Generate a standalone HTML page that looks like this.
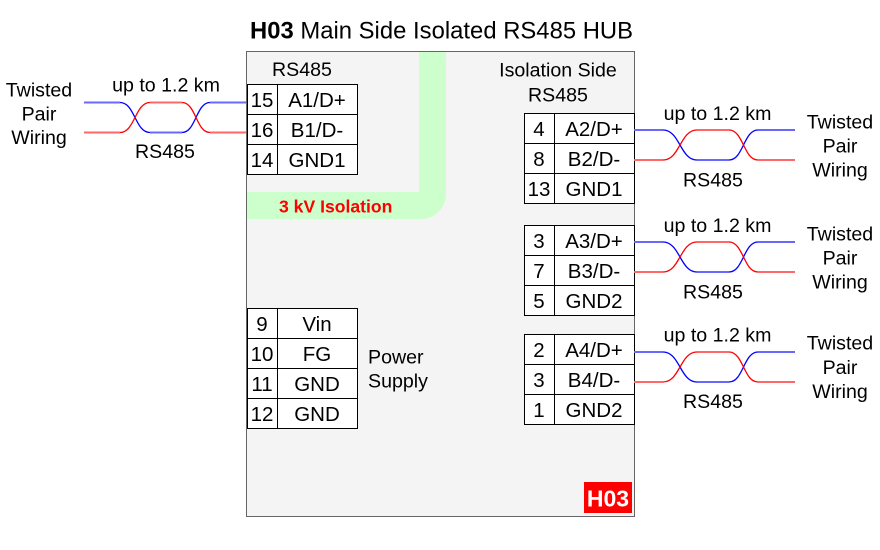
<!DOCTYPE html>
<html>
<head>
<meta charset="utf-8">
<style>
  html, body { margin: 0; padding: 0; background: #ffffff; }
  svg { display: block; }
  text { font-family: "Liberation Sans", Arial, sans-serif; fill: #000; }
</style>
</head>
<body>
<svg width="880" height="550" viewBox="0 0 880 550" xmlns="http://www.w3.org/2000/svg">
  <!-- Title -->
  <text x="250" y="38.5" font-size="23.8" textLength="383" lengthAdjust="spacing"><tspan font-weight="bold">H03</tspan> Main Side Isolated RS485 HUB</text>

  <!-- Main box -->
  <rect x="246.5" y="51.5" width="388" height="465" fill="#f4f4f4" stroke="#666666" stroke-width="1"/>

  <!-- Green isolation band -->
  <path d="M419,52 H446 V194 A25,25 0 0 1 421,219 H247 V192 H419 Z" fill="#ccffcc"/>
  <text x="279" y="212.7" font-size="17.6" font-weight="bold" style="fill:#ff0000">3 kV Isolation</text>

  <!-- Section labels -->
  <text x="302" y="76" font-size="19.6" text-anchor="middle">RS485</text>
  <text x="558" y="76.7" font-size="19.6" text-anchor="middle">Isolation Side</text>
  <text x="558" y="101.5" font-size="19.6" text-anchor="middle">RS485</text>

  <!-- Table 1 (left RS485) -->
  <g fill="#fff" stroke="#000" stroke-width="1">
    <rect x="247.5" y="84.5" width="110" height="90"/>
    <line x1="247.5" y1="114.5" x2="357.5" y2="114.5"/>
    <line x1="247.5" y1="144.5" x2="357.5" y2="144.5"/>
    <line x1="277.5" y1="84.5" x2="277.5" y2="174.5"/>
  </g>
  <g font-size="20.5" text-anchor="middle">
    <text x="262" y="107">15</text><text x="317" y="107">A1/D+</text>
    <text x="262" y="137">16</text><text x="317" y="137">B1/D-</text>
    <text x="262" y="167">14</text><text x="317" y="167">GND1</text>
  </g>

  <!-- Power table -->
  <g fill="#fff" stroke="#000" stroke-width="1">
    <rect x="247.5" y="308.5" width="110" height="120"/>
    <line x1="247.5" y1="338.5" x2="357.5" y2="338.5"/>
    <line x1="247.5" y1="368.5" x2="357.5" y2="368.5"/>
    <line x1="247.5" y1="398.5" x2="357.5" y2="398.5"/>
    <line x1="277.5" y1="308.5" x2="277.5" y2="428.5"/>
  </g>
  <g font-size="20.5" text-anchor="middle">
    <text x="262" y="331">9</text><text x="317" y="331">Vin</text>
    <text x="262" y="361">10</text><text x="317" y="361">FG</text>
    <text x="262" y="391">11</text><text x="317" y="391">GND</text>
    <text x="262" y="421">12</text><text x="317" y="421">GND</text>
  </g>
  <text x="368" y="363.3" font-size="19.6">Power</text>
  <text x="368" y="387.3" font-size="19.6">Supply</text>

  <!-- Right tables -->
  <g fill="#fff" stroke="#000" stroke-width="1">
    <rect x="524.5" y="113.5" width="110" height="90"/>
    <line x1="524.5" y1="143.5" x2="634.5" y2="143.5"/>
    <line x1="524.5" y1="173.5" x2="634.5" y2="173.5"/>
    <line x1="554.5" y1="113.5" x2="554.5" y2="203.5"/>

    <rect x="524.5" y="225.5" width="110" height="90"/>
    <line x1="524.5" y1="255.5" x2="634.5" y2="255.5"/>
    <line x1="524.5" y1="285.5" x2="634.5" y2="285.5"/>
    <line x1="554.5" y1="225.5" x2="554.5" y2="315.5"/>

    <rect x="524.5" y="334.5" width="110" height="90"/>
    <line x1="524.5" y1="364.5" x2="634.5" y2="364.5"/>
    <line x1="524.5" y1="394.5" x2="634.5" y2="394.5"/>
    <line x1="554.5" y1="334.5" x2="554.5" y2="424.5"/>
  </g>
  <g font-size="20.5" text-anchor="middle">
    <text x="539" y="136">4</text><text x="594" y="136">A2/D+</text>
    <text x="539" y="166">8</text><text x="594" y="166">B2/D-</text>
    <text x="539" y="196">13</text><text x="594" y="196">GND1</text>

    <text x="539" y="248">3</text><text x="594" y="248">A3/D+</text>
    <text x="539" y="278">7</text><text x="594" y="278">B3/D-</text>
    <text x="539" y="308">5</text><text x="594" y="308">GND2</text>

    <text x="539" y="357">2</text><text x="594" y="357">A4/D+</text>
    <text x="539" y="387">3</text><text x="594" y="387">B4/D-</text>
    <text x="539" y="417">1</text><text x="594" y="417">GND2</text>
  </g>

  <!-- H03 badge -->
  <rect x="584" y="482" width="48" height="31" fill="#ff0000"/>
  <text x="608" y="506.5" font-size="23" font-weight="bold" text-anchor="middle" style="fill:#ffffff">H03</text>

  <!-- Left twisted pair -->
  <g fill="none">
    <path d="M84,102.5 H120 M150,132.5 H182 M210,102.5 H246" stroke="#6868ff" stroke-width="2"/>
    <path d="M120,102.5 C135,102.5 135,132.5 150,132.5 M182,132.5 C196,132.5 196,102.5 210,102.5" stroke="#0000ff" stroke-width="1.3"/>
    <path d="M84,132.5 H120 M150,102.5 H182 M210,132.5 H246" stroke="#ff6868" stroke-width="2"/>
    <path d="M120,132.5 C135,132.5 135,102.5 150,102.5 M182,102.5 C196,102.5 196,132.5 210,132.5" stroke="#ff0000" stroke-width="1.3"/>
  </g>
  <g font-size="19.6" text-anchor="middle">
    <text x="166" y="91.5">up to 1.2 km</text>
    <text x="165" y="158">RS485</text>
    <text x="39" y="96.7">Twisted</text>
    <text x="39" y="120.5">Pair</text>
    <text x="39" y="144">Wiring</text>
  </g>

  <!-- Right twisted pairs -->
  <g fill="none">
    <path d="M634,130 H663 M697,160 H729 M758,130 H795" stroke="#6868ff" stroke-width="2"/>
    <path d="M663,130 C680,130 680,160 697,160 M729,160 C743.5,160 743.5,130 758,130" stroke="#0000ff" stroke-width="1.3"/>
    <path d="M634,160 H663 M697,130 H729 M758,160 H795" stroke="#ff6868" stroke-width="2"/>
    <path d="M663,160 C680,160 680,130 697,130 M729,130 C743.5,130 743.5,160 758,160" stroke="#ff0000" stroke-width="1.3"/>

    <path d="M634,242 H663 M697,272 H729 M758,242 H795" stroke="#6868ff" stroke-width="2"/>
    <path d="M663,242 C680,242 680,272 697,272 M729,272 C743.5,272 743.5,242 758,242" stroke="#0000ff" stroke-width="1.3"/>
    <path d="M634,272 H663 M697,242 H729 M758,272 H795" stroke="#ff6868" stroke-width="2"/>
    <path d="M663,272 C680,272 680,242 697,242 M729,242 C743.5,242 743.5,272 758,272" stroke="#ff0000" stroke-width="1.3"/>

    <path d="M634,352 H663 M697,382 H729 M758,352 H795" stroke="#6868ff" stroke-width="2"/>
    <path d="M663,352 C680,352 680,382 697,382 M729,382 C743.5,382 743.5,352 758,352" stroke="#0000ff" stroke-width="1.3"/>
    <path d="M634,382 H663 M697,352 H729 M758,382 H795" stroke="#ff6868" stroke-width="2"/>
    <path d="M663,382 C680,382 680,352 697,352 M729,352 C743.5,352 743.5,382 758,382" stroke="#ff0000" stroke-width="1.3"/>
  </g>
  <g font-size="19.6" text-anchor="middle">
    <text x="717.5" y="120">up to 1.2 km</text>
    <text x="713" y="186.5">RS485</text>
    <text x="840" y="128.3">Twisted</text>
    <text x="840" y="152.5">Pair</text>
    <text x="840" y="176.5">Wiring</text>

    <text x="717.5" y="232">up to 1.2 km</text>
    <text x="713" y="298.5">RS485</text>
    <text x="840" y="240.3">Twisted</text>
    <text x="840" y="264.5">Pair</text>
    <text x="840" y="288.5">Wiring</text>

    <text x="717.5" y="341.5">up to 1.2 km</text>
    <text x="713" y="408">RS485</text>
    <text x="840" y="349.6">Twisted</text>
    <text x="840" y="373.8">Pair</text>
    <text x="840" y="397.8">Wiring</text>
  </g>
</svg>
</body>
</html>
